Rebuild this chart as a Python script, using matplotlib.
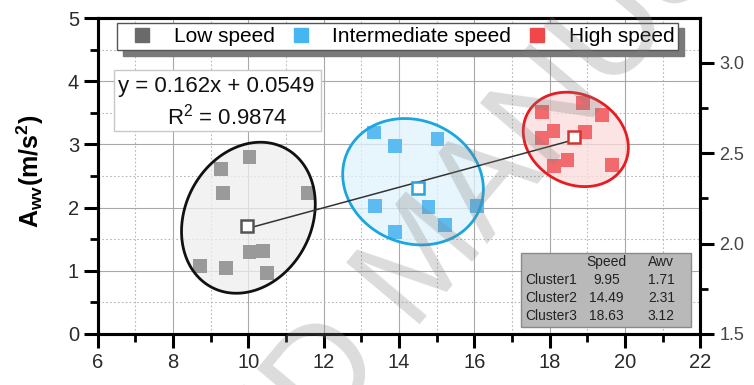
import numpy as np
import matplotlib
matplotlib.use("Agg")
import matplotlib.pyplot as plt
from matplotlib.lines import Line2D
from matplotlib.patches import Polygon, Rectangle
from matplotlib.ticker import MultipleLocator, FormatStrFormatter

plt.rcParams["font.family"] = ["Liberation Sans", "DejaVu Sans"]
plt.rcParams["mathtext.fontset"] = "custom"
plt.rcParams["mathtext.rm"] = "Liberation Sans"
plt.rcParams["mathtext.bf"] = "Liberation Sans:bold"

# --- measured points (speed, Aw) per cluster ---
low_speed = [10.03, 9.28, 9.33, 11.58, 8.71, 9.40, 10.03, 10.39, 10.50]
low_aw = [2.80, 2.61, 2.23, 2.23, 1.07, 1.05, 1.30, 1.32, 0.97]
mid_speed = [13.33, 13.89, 15.02, 13.36, 14.78, 16.07, 13.89, 15.23]
mid_aw = [3.19, 2.97, 3.08, 2.03, 2.01, 2.03, 1.62, 1.72]
high_speed = [17.80, 18.88, 19.38, 18.10, 18.94, 17.80, 18.47, 18.11, 19.66]
high_aw = [3.52, 3.65, 3.47, 3.21, 3.20, 3.10, 2.76, 2.66, 2.67]

# --- cluster centroids ---
cluster_names = ["Cluster1", "Cluster2", "Cluster3"]
centroid_speed = [9.95, 14.49, 18.63]
centroid_aw = [1.71, 2.31, 3.12]

# --- cluster ellipses: centre, half extents along x / y, x-shift of topmost point ---
ell_cx = [10.00, 14.37, 18.69]
ell_cy = [1.84, 2.41, 3.08]
ell_hx = [1.775, 1.867, 1.395]
ell_hy = [1.195, 1.000, 0.747]
ell_top_shift = [0.32, -0.22, -0.24]

series_labels = ["Low speed", "Intermediate speed", "High speed"]
point_colors = ["#9a9a9a", "#5cbcf2", "#f26a6e"]
legend_colors = ["#6a6a6a", "#45b6f2", "#f04848"]
edge_colors = ["#111111", "#1ba6de", "#e61c22"]
fill_colors = ["#eeeeee", "#dff3fd", "#fddcdc"]
centroid_colors = ["#555555", "#2aa2dc", "#d43434"]

fig = plt.figure(figsize=(7.54, 3.85), dpi=100)
ax = fig.add_axes([0.1296, 0.1325, 0.929 - 0.1296, 0.953 - 0.1325])

ax.set_xlim(6, 22)
ax.set_ylim(0, 5)
ax.xaxis.set_major_locator(MultipleLocator(2))
ax.xaxis.set_minor_locator(MultipleLocator(1))
ax.yaxis.set_major_locator(MultipleLocator(1))
ax.yaxis.set_minor_locator(MultipleLocator(0.5))

ax.grid(which="major", color="#a8a8a8", lw=0.8, ls="-", zorder=0)
ax.grid(which="minor", color="#b8b8b8", lw=0.8, ls=(0, (1.5, 2)), zorder=0)
ax.set_axisbelow(True)

for s in ax.spines.values():
    s.set_linewidth(2.2)
    s.set_color("black")
    s.set_zorder(10)

ax.tick_params(which="major", direction="out", length=10, width=2.2,
               labelsize=14.5, labelcolor="#2a2a2a", top=False, right=False)
ax.tick_params(which="minor", direction="out", length=5.5, width=2.0,
               top=False, right=False)

# cluster ellipses
t = np.linspace(0, 2 * np.pi, 300)
for i in range(3):
    a = ell_hx[i]
    sxy = ell_top_shift[i] * ell_hy[i]
    b = sxy / a
    c = np.sqrt(ell_hy[i] ** 2 - b ** 2)
    ex = ell_cx[i] + a * np.cos(t)
    ey = ell_cy[i] + b * np.cos(t) + c * np.sin(t)
    ax.add_patch(Polygon(np.column_stack([ex, ey]), closed=True,
                         facecolor=fill_colors[i], alpha=0.75, edgecolor="none", zorder=1))
    ax.add_patch(Polygon(np.column_stack([ex, ey]), closed=True,
                         facecolor="none", edgecolor=edge_colors[i], lw=2.0, zorder=4))

# points
for xs, ys, col in zip([low_speed, mid_speed, high_speed],
                       [low_aw, mid_aw, high_aw], point_colors):
    ax.scatter(xs, ys, marker="s", s=100, color=col, edgecolors="none", zorder=3)

# linear fit through the cluster centroids
slope, intercept = np.polyfit(centroid_speed, centroid_aw, 1)
fx = np.array([centroid_speed[0], centroid_speed[-1]])
ax.plot(fx, slope * fx + intercept, color="#333333", lw=1.1, zorder=5)

for i in range(3):
    ax.plot(centroid_speed[i], centroid_aw[i], marker="s", ms=9, mfc="white",
            mec=centroid_colors[i], mew=1.8, ls="none", zorder=6)

ax.set_ylabel(r"$\mathbf{A}_{\mathbf{wv}}\mathbf{(m/s^{2})}$", fontsize=18)
ax.yaxis.set_label_coords(-0.086, 0.514)

# equation box
ax.add_patch(Rectangle((0.027, 0.642), 0.344, 0.193, transform=ax.transAxes,
                       facecolor="white", edgecolor="#c8c8c8", lw=1.0, zorder=7))
ax.text(0.197, 0.785, f"y = {slope:.3f}x + {intercept:.4f}", transform=ax.transAxes,
        ha="center", va="center", fontsize=16, color="#111111", zorder=8)
ax.text(0.214, 0.688, r"R$^2$ = 0.9874", transform=ax.transAxes,
        ha="center", va="center", fontsize=16, color="#111111", zorder=8)

# centroid table
ax.add_patch(Rectangle((0.703, 0.023), 0.282, 0.232, transform=ax.transAxes,
                       facecolor="#b9b9b9", edgecolor="#8a8a8a", lw=1.0, zorder=7))
tfs = 10
ax.text(0.844, 0.229, "Speed", transform=ax.transAxes, ha="center", va="center",
        fontsize=tfs, color="#222222", zorder=8)
ax.text(0.935, 0.229, "Awv", transform=ax.transAxes, ha="center", va="center",
        fontsize=tfs, color="#222222", zorder=8)
row_y = [0.171, 0.113, 0.057]
for name, sp, aw, ry in zip(cluster_names, centroid_speed, centroid_aw, row_y):
    ax.text(0.709, ry, name, transform=ax.transAxes, ha="left", va="center",
            fontsize=tfs, color="#222222", zorder=8)
    ax.text(0.844, ry, f"{sp:.2f}", transform=ax.transAxes, ha="center", va="center",
            fontsize=tfs, color="#222222", zorder=8)
    ax.text(0.935, ry, f"{aw:.2f}", transform=ax.transAxes, ha="center", va="center",
            fontsize=tfs, color="#222222", zorder=8)

# legend
handles = [Line2D([], [], marker="s", ls="none", ms=9.5, color=c) for c in legend_colors]
leg = ax.legend(handles, series_labels, loc="upper center", bbox_to_anchor=(0.498, 0.985),
                ncol=3, fontsize=15, frameon=True, fancybox=False,
                borderpad=0.2, handlelength=2.0, handletextpad=0.5, columnspacing=0.27,
                borderaxespad=0, shadow={"ox": 4, "oy": -4, "color": "#7a7a7a", "alpha": 1})
leg.get_frame().set_edgecolor("#555555")
leg.get_frame().set_linewidth(1.0)
leg.set_zorder(9)

# secondary scale on the right
ax2 = ax.twinx()
ax2.set_ylim(1.5, 1.5 + 5 * 0.5 / (90.5 / 63.2))
ax2.yaxis.set_major_locator(MultipleLocator(0.5))
ax2.yaxis.set_minor_locator(MultipleLocator(0.25))
ax2.yaxis.set_major_formatter(FormatStrFormatter("%.1f"))
ax2.tick_params(which="major", direction="out", length=10, width=2.2,
                labelsize=13, labelcolor="#444444")
ax2.tick_params(which="minor", direction="out", length=5.5, width=2.0)
for s in ax2.spines.values():
    s.set_linewidth(2.2)
    s.set_color("black")

# diagonal watermark
fig.text(425 / 754, 1 - 262 / 385, "ACCEPTED MANUSCRIPT", rotation=50,
         rotation_mode="anchor", ha="center", va="center", fontsize=100,
         color="#808080", alpha=0.28, zorder=20)

fig.savefig("out.png", dpi=100)
